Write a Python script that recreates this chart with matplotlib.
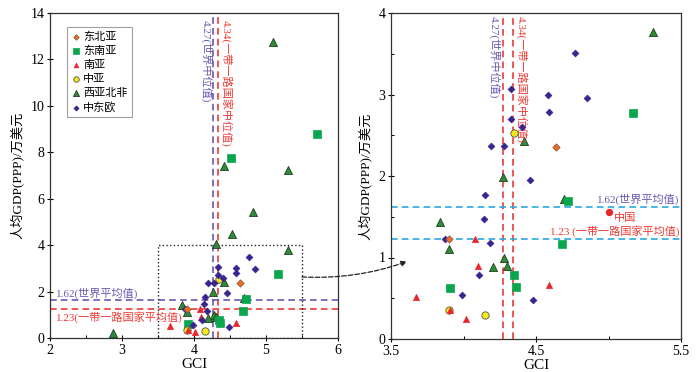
import matplotlib
matplotlib.use('Agg')
import matplotlib.pyplot as plt
from matplotlib.patches import Rectangle, ConnectionPatch
from matplotlib.ticker import MultipleLocator

plt.rcParams['font.family'] = ['Liberation Serif', 'Noto Sans CJK SC']
plt.rcParams['axes.unicode_minus'] = False

# GCI (x) and per-capita GDP PPP in 10k USD (y), by region
ne_asia_x = [4.64, 3.90]
ne_asia_y = [2.35, 1.23]
se_asia_x = [5.71, 4.52, 5.17, 4.72, 4.68, 4.35, 4.36, 3.91]
se_asia_y = [8.79, 7.76, 2.77, 1.69, 1.16, 0.78, 0.64, 0.62]
s_asia_x = [3.67, 4.08, 4.10, 4.02, 4.59, 3.91]
s_asia_y = [0.52, 1.23, 0.89, 0.25, 0.66, 0.35]
c_asia_x = [4.35, 3.90, 4.15]
c_asia_y = [2.53, 0.35, 0.30]
wa_na_x = [5.10, 4.42, 5.30, 4.82, 4.53, 4.30, 2.87, 5.31, 4.42, 4.27, 4.69, 3.84, 3.90, 4.28, 4.30, 4.20]
wa_na_y = [12.75, 7.42, 7.22, 5.42, 4.48, 4.06, 0.23, 3.77, 2.43, 1.99, 1.72, 1.43, 1.11, 1.00, 0.90, 0.88]
ce_eu_x = [4.77, 4.58, 4.85, 4.59, 4.33, 4.33, 4.40, 4.19, 4.28, 4.46, 4.15, 4.14, 3.87, 4.18, 4.11, 3.99, 4.48]
ce_eu_y = [3.51, 3.00, 2.96, 2.79, 3.07, 2.70, 2.60, 2.37, 2.37, 1.95, 1.77, 1.47, 1.23, 1.18, 0.79, 0.54, 0.48]
china_x, china_y = 5.00, 1.56

world_median, bri_median = 4.27, 4.34
world_mean, bri_mean = 1.62, 1.23

PURPLE = '#3a2390'
PURPLE_LINE = '#6a58b0'
RED = '#ee3a35'
BLUE = '#2aa8e0'

groups = [
    ('东北亚', ne_asia_x, ne_asia_y, dict(marker='D', s=14, c='#f26a21', edgecolors='#7a5a40', linewidths=0.5, zorder=7)),
    ('东南亚', se_asia_x, se_asia_y, dict(marker='s', s=26, c='#0aa64e', edgecolors='#0aa64e', linewidths=0.5, zorder=4)),
    ('南亚', s_asia_x, s_asia_y, dict(marker='^', s=20, c='#e8262a', edgecolors='#e8262a', linewidths=0.5, zorder=6)),
    ('中亚', c_asia_x, c_asia_y, dict(marker='o', s=28, c='#f5ea14', edgecolors='#555555', linewidths=0.6, zorder=5)),
    ('西亚北非', wa_na_x, wa_na_y, dict(marker='^', s=34, c='#2e8b3a', edgecolors='#1f3f1f', linewidths=0.6, zorder=3)),
    ('中东欧', ce_eu_x, ce_eu_y, dict(marker='D', s=12, c=PURPLE, edgecolors=PURPLE, linewidths=0.5, zorder=6)),
]

fig = plt.figure(figsize=(7, 3.72), dpi=100)
ax1 = fig.add_axes([50/700, 1-338/372, 288/700, 325/372])
ax2 = fig.add_axes([391/700, 1-339/372, 290/700, 326/372])

for name, xs, ys, kw in groups:
    ax1.scatter(xs, ys, label=name, **kw)
    ax2.scatter(xs, ys, **kw)
ax2.scatter([china_x], [china_y], marker='o', s=18, c='#e8262a', zorder=6)

# left panel
ax1.axvline(world_median, color=PURPLE_LINE, ls='--', lw=1.2, dashes=(4, 2.5), zorder=2)
ax1.axvline(bri_median, color=RED, ls='--', lw=1.2, dashes=(4, 2.5), zorder=2)
ax1.axhline(world_mean, color=PURPLE_LINE, ls='--', lw=1.2, dashes=(4, 2.5), zorder=2)
ax1.axhline(bri_mean, color=RED, ls='--', lw=1.2, dashes=(4, 2.5), zorder=2)
ax1.add_patch(Rectangle((3.5, 0), 2, 4, fill=False, ls=':', ec='#222222', lw=1.0, zorder=2))

ax1.text(4.25, 13.7, '4.27(世界中位值)', rotation=-90, ha='right', va='top', color=PURPLE_LINE, fontsize=8)
ax1.text(4.37, 13.7, '4.34(一带一路国家中位值)', rotation=-90, ha='left', va='top', color=RED, fontsize=8)
ax1.text(2.09, world_mean + 0.06, '1.62(世界平均值)', ha='left', va='bottom', color=PURPLE_LINE, fontsize=8)
ax1.text(2.09, bri_mean - 0.08, '1.23(一带一路国家平均值)', ha='left', va='top', color=RED, fontsize=8)

ax1.set_xlim(2, 6)
ax1.set_ylim(0, 14)
ax1.xaxis.set_major_locator(MultipleLocator(1))
ax1.xaxis.set_minor_locator(MultipleLocator(0.5))
ax1.yaxis.set_major_locator(MultipleLocator(2))

leg = ax1.legend(loc='upper left', bbox_to_anchor=(0.058, 0.957), borderaxespad=0,
                 fontsize=8, frameon=True, fancybox=False, edgecolor='#888888',
                 handletextpad=0.2, labelspacing=0.35, borderpad=0.4, handlelength=0.9,
                 markerscale=0.75)
leg.get_frame().set_linewidth(0.8)

# right panel
ax2.axvline(world_median, color=RED, ls='--', lw=1.2, dashes=(4, 2.5), zorder=2)
ax2.axvline(bri_median, color=RED, ls='--', lw=1.2, dashes=(4, 2.5), zorder=2)
ax2.axhline(world_mean, color=BLUE, ls='--', lw=1.2, dashes=(4, 2.5), zorder=2)
ax2.axhline(bri_mean, color=BLUE, ls='--', lw=1.2, dashes=(4, 2.5), zorder=2)

ax2.text(4.255, 3.96, '4.27(世界中位值)', rotation=-90, ha='right', va='top', color=PURPLE_LINE, fontsize=8)
ax2.text(4.36, 3.96, '4.34(一带一路国家中位值)', rotation=-90, ha='left', va='top', color=RED, fontsize=8)
ax2.text(5.49, world_mean + 0.02, '1.62(世界平均值)', ha='right', va='bottom', color=PURPLE_LINE, fontsize=8)
ax2.text(5.04, 1.49, '中国', ha='left', va='center', color=RED, fontsize=8)
ax2.text(5.49, bri_mean + 0.02, '1.23 (一带一路国家平均值)', ha='right', va='bottom', color=RED, fontsize=8)

ax2.set_xlim(3.5, 5.5)
ax2.set_ylim(0, 4)
ax2.set_xticks([3.5, 4.5, 5.5])
ax2.xaxis.set_minor_locator(MultipleLocator(0.5))
ax2.yaxis.set_major_locator(MultipleLocator(1))
ax2.yaxis.set_minor_locator(MultipleLocator(0.5))

for ax in (ax1, ax2):
    ax.set_xlabel('GCI', fontsize=11, labelpad=1)
    ax.set_ylabel('人均GDP(PPP)/万美元', fontsize=9.5, labelpad=5)
    ax.tick_params(which='major', direction='inout', length=4, width=0.8, labelsize=10, pad=2)
    ax.tick_params(which='minor', direction='in', length=2.5, width=0.7)
    ax.tick_params(top=False, right=False, which='both')
    for sp in ax.spines.values():
        sp.set_color('#333333')
        sp.set_linewidth(0.9)

# dashed arrow linking the zoom box to the right panel
con = ConnectionPatch(xyA=(5.5, 2.63), coordsA=ax1.transData,
                      xyB=(3.61, 0.95), coordsB=ax2.transData,
                      arrowstyle='-|>', ls='--', lw=0.9, color='#222222',
                      connectionstyle='arc3,rad=0.1', mutation_scale=8)
fig.add_artist(con)

fig.savefig('out.png', dpi=100)
